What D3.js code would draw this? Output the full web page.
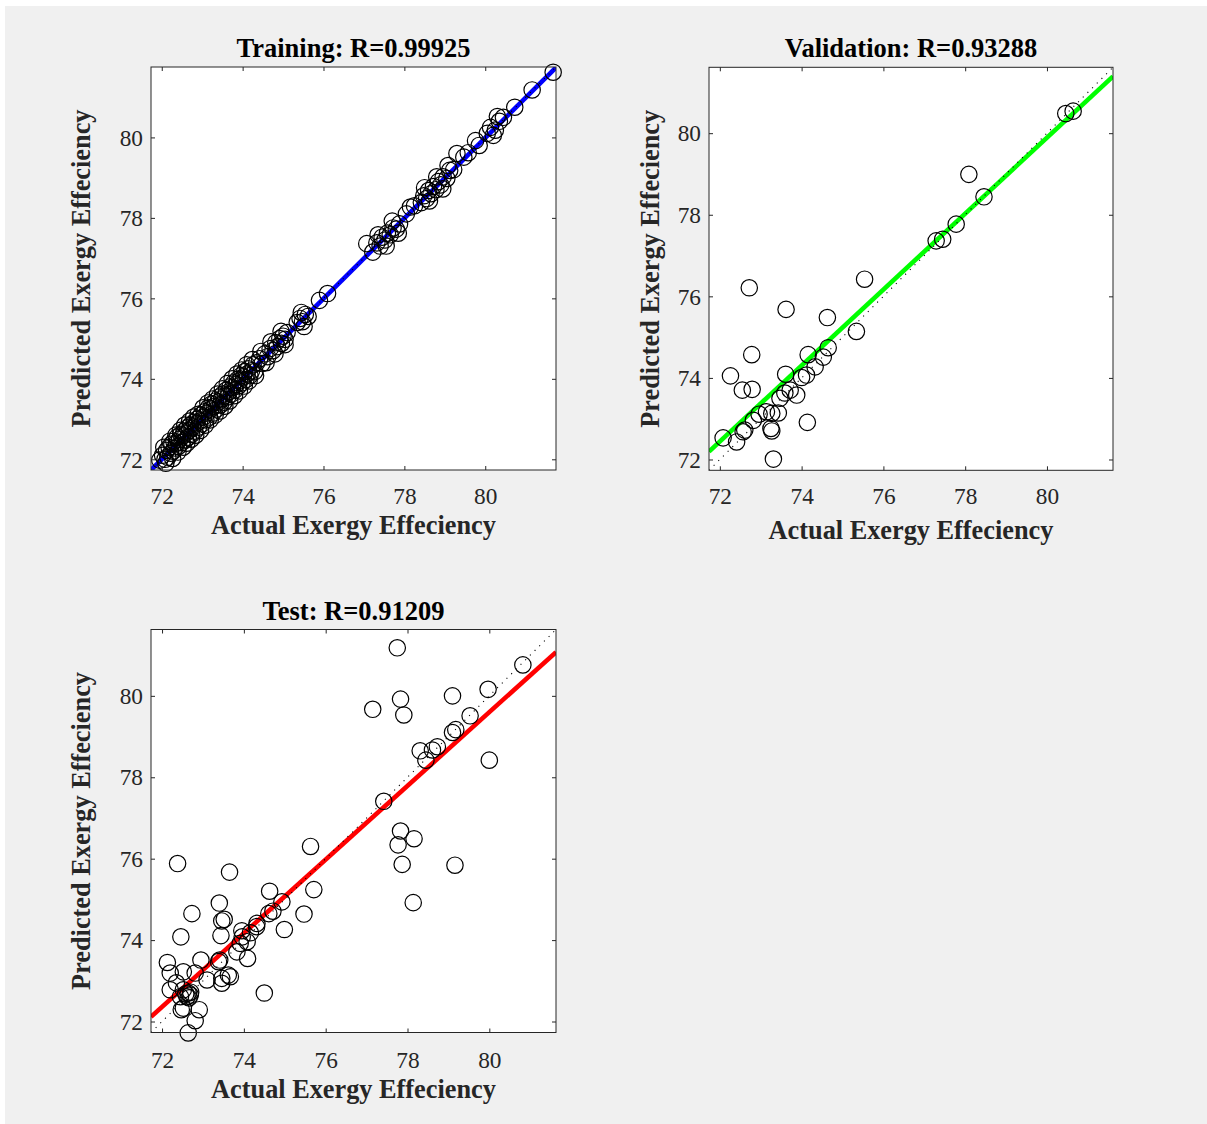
<!DOCTYPE html>
<html>
<head>
<meta charset="utf-8">
<script src="https://cdn.jsdelivr.net/npm/d3@7"></script>
<style>
  body { margin: 0; background: #ffffff; }
  svg { display: block; }
</style>
</head>
<body>
<svg id="fig" width="1207" height="1124"></svg>
<script>
// ---- data: [actual, predicted] exergy efficiency pairs per subset ----
const tickValues = [72, 74, 76, 78, 80];

const trainingPoints = [
  [71.95,71.98],[72.02,72.10],[72.08,72.00],[72.12,72.22],[72.15,72.05],[72.18,72.30],[72.22,72.15],
  [72.25,72.38],[72.28,72.20],[72.30,72.45],[72.33,72.28],[72.36,72.40],[72.38,72.55],[72.41,72.32],
  [72.44,72.50],[72.47,72.62],[72.50,72.42],[72.52,72.58],[72.55,72.70],[72.58,72.48],[72.60,72.65],
  [72.63,72.78],[72.66,72.55],[72.68,72.72],[72.71,72.85],[72.74,72.62],[72.77,72.80],[72.80,72.92],
  [72.82,72.70],[72.85,72.88],[72.88,73.00],[72.91,72.80],[72.94,72.95],[72.97,73.10],[73.00,72.88],
  [73.03,73.05],[73.06,73.18],[73.09,72.98],[73.12,73.15],[73.15,73.28],[73.18,73.05],[73.21,73.25],
  [73.24,73.38],[73.27,73.15],[73.30,73.32],[73.33,73.45],[73.36,73.25],[73.39,73.42],[73.42,73.55],
  [73.45,73.35],[73.48,73.50],[73.51,73.62],[73.54,73.42],[73.57,73.58],[73.60,73.72],
  [73.63,73.55],[73.66,73.68],[73.69,73.80],[73.72,73.62],[73.75,73.78],[73.78,73.90],[73.81,73.72],
  [73.84,73.86],[73.87,73.98],[73.90,73.82],[73.93,73.95],[73.96,74.08],[73.99,73.90],[74.02,74.05],
  [74.05,74.18],[74.08,73.98],[74.11,74.12],[74.14,74.25],[74.18,74.08],[74.22,74.20],[74.26,74.35],
  [74.30,74.18],
  [72.05,72.30],[72.10,71.90],[72.20,72.45],[72.27,72.02],[72.35,72.60],[72.40,72.18],[72.46,72.72],
  [72.53,72.30],[72.57,72.85],[72.62,72.40],[72.69,72.95],[72.73,72.50],[72.79,73.05],[72.84,72.60],
  [72.90,73.12],[72.96,72.72],[73.02,73.28],[73.08,72.85],[73.14,73.40],[73.20,72.98],[73.26,73.50],
  [73.32,73.10],[73.38,73.62],[73.44,73.20],[73.50,73.75],[73.56,73.32],[73.62,73.88],[73.68,73.45],
  [73.74,74.00],[73.80,73.58],[73.86,74.12],[73.92,73.70],[73.98,74.22],[74.04,73.82],[74.10,74.35],
  [74.16,73.95],[74.24,74.48],[74.32,74.08],
  [74.35,74.40],[74.42,74.50],[74.48,74.38],[74.55,74.62],[74.62,74.55],[74.68,74.75],[74.75,74.70],
  [74.82,74.90],[74.86,74.80],[74.92,75.00],[74.96,74.88],[75.00,75.06],[75.05,74.98],[75.10,75.15],
  [74.45,74.68],[74.58,74.40],[74.70,74.92],[74.80,74.62],[74.95,75.18],[75.05,74.85],
  [75.35,75.40],[75.42,75.50],[75.48,75.42],[75.55,75.60],[75.62,75.55],[75.45,75.65],[75.52,75.30],
  [75.90,75.95],[76.10,76.12],
  [77.22,77.15],[77.07,77.36],[77.32,77.38],[77.40,77.30],[77.45,77.52],[77.52,77.45],[77.58,77.62],
  [77.65,77.58],[77.72,77.75],[77.80,77.72],[77.88,77.85],[77.35,77.58],[77.55,77.30],[77.70,77.92],
  [77.85,77.62],[78.05,78.10],[78.15,78.27],[78.25,78.30],
  [78.42,78.38],[78.48,78.55],[78.55,78.48],[78.60,78.68],[78.66,78.60],[78.72,78.78],[78.78,78.70],
  [78.84,78.90],[78.90,78.82],[78.96,79.02],[79.05,78.98],[79.12,79.18],[79.22,79.20],
  [78.50,78.75],[78.62,78.42],[78.80,79.02],[78.95,78.72],[79.08,79.30],
  [79.30,79.60],[79.47,79.51],[79.58,79.62],[79.76,79.92],[79.85,79.80],
  [80.05,80.10],[80.13,80.25],[80.25,80.18],[80.35,80.40],[80.45,80.50],[80.20,80.05],[80.30,80.52],
  [80.73,80.75],[81.16,81.18],[81.68,81.62]
];

const validationPoints = [
  [72.08,72.53],[72.41,72.43],[72.57,72.68],[72.61,72.72],[72.26,74.05],[72.55,73.70],[72.79,73.72],
  [72.72,76.21],[72.78,74.57],[72.82,72.96],[72.96,73.11],[73.14,73.17],[73.27,73.13],[73.43,73.14],
  [73.25,72.76],[73.27,72.70],[73.31,72.01],[73.47,73.50],[73.59,73.63],[73.72,73.70],[73.88,73.58],
  [73.61,74.09],[73.62,75.68],[74.00,74.01],[74.12,74.07],[74.14,72.91],[74.16,74.57],[74.33,74.27],
  [74.53,74.51],[74.65,74.74],[74.63,75.48],[75.34,75.14],[75.54,76.42],[77.29,77.36],[77.45,77.40],
  [77.78,77.77],[78.09,78.99],[78.46,78.44],[80.46,80.48],[80.64,80.54]
];

const testPoints = [
  [77.75,81.18],[77.15,79.67],[77.83,79.92],[77.91,79.53],[79.10,80.00],[79.97,80.16],[80.82,80.76],
  [79.53,79.51],[79.10,79.10],[79.18,79.17],[78.73,78.75],[78.61,78.67],[78.31,78.65],[78.45,78.42],
  [80.00,78.42],[77.42,77.41],[77.83,76.68],[77.77,76.34],[78.16,76.49],[77.87,75.86],[79.16,75.84],
  [78.14,74.92],[75.63,76.30],[75.71,75.24],[75.47,74.64],[74.99,74.26],[74.93,74.94],[74.63,75.20],
  [74.71,74.71],[74.61,74.65],[74.50,72.70],[72.38,75.88],[73.65,75.67],[72.73,74.65],[73.40,74.91],
  [73.52,74.51],[73.46,74.47],[73.44,74.11],[72.46,74.08],[74.32,74.41],[74.16,74.18],[73.95,74.23],
  [74.08,73.96],[73.91,73.92],[73.83,73.71],[74.09,73.55],[73.67,73.10],[73.46,73.06],[73.46,72.94],
  [73.38,73.47],[72.95,73.51],[73.10,73.02],[72.81,73.19],[72.13,73.45],[72.20,73.19],[72.52,73.22],
  [72.20,72.78],[72.52,72.78],[72.64,72.70],[72.69,72.65],[72.61,72.61],[72.45,72.61],[72.52,72.33],
  [72.91,72.29],[72.81,72.02],[72.64,71.72],[73.41,73.51],[73.62,73.14],[73.96,74.08],[74.31,74.33],
  [72.58,72.68],[72.66,72.58],[72.70,72.72],[72.47,72.29],[72.35,72.95]
];

const subsetNames = ["Training", "Validation", "Test"];
const rValues = ["0.99925", "0.93288", "0.91209"];
const fitSlopes = [0.999, 0.931, 0.905];
const fitIntercepts = [0.07, 5.41, 7.20];
const axisRanges = [[71.734, 81.75], [71.735, 81.615], [71.73, 81.63]];
const xLabelText = "Actual Exergy Effeciency";
const yLabelText = "Predicted Exergy Effeciency";

// ---- layout and styling ----
const layouts = [
  { left: 151, top: 67,    width: 405, height: 403, titleY: 57,  xTickY: 33.5, xLabelY: 63.5, yLabelX: 90,  color: "#0000ff" },
  { left: 709, top: 67.3,  width: 404, height: 403, titleY: 57,  xTickY: 33.5, xLabelY: 69,   yLabelX: 659, color: "#00ff00" },
  { left: 151, top: 629.5, width: 405, height: 403, titleY: 619.5, xTickY: 35,   xLabelY: 65.5, yLabelX: 90,  color: "#ff0000" }
];
const pointSets = [trainingPoints, validationPoints, testPoints];

const serif = "'Liberation Serif', 'Times New Roman', Times, serif";
const axisColor = "#262626";
const tickFont = 23.3;
const labelFont = 26.3;
const titleFont = 26.5;

const svg = d3.select("#fig");
svg.append("rect")
  .attr("x", 5).attr("y", 6).attr("width", 1202).attr("height", 1118)
  .attr("fill", "#f0f0f0");

pointSets.forEach((points, i) => {
  const L = layouts[i];
  const x = d3.scaleLinear().domain(axisRanges[i]).range([0, L.width]);
  const y = d3.scaleLinear().domain(axisRanges[i]).range([L.height, 0]);

  const g = svg.append("g").attr("transform", `translate(${L.left},${L.top})`);

  g.append("rect")
    .attr("width", L.width).attr("height", L.height)
    .attr("fill", "#ffffff");

  const clipId = `clip-${i}`;
  g.append("clipPath").attr("id", clipId)
    .append("rect").attr("width", L.width).attr("height", L.height);

  const [lo, hi] = axisRanges[i];

  // regression fit line
  const fit = v => fitSlopes[i] * v + fitIntercepts[i];
  g.append("line")
    .attr("clip-path", `url(#${clipId})`)
    .attr("x1", x(lo)).attr("y1", y(fit(lo)))
    .attr("x2", x(hi)).attr("y2", y(fit(hi)))
    .attr("stroke", L.color).attr("stroke-width", 4.6);

  // identity reference (Y = T)
  g.append("line")
    .attr("clip-path", `url(#${clipId})`)
    .attr("x1", x(lo)).attr("y1", y(lo))
    .attr("x2", x(hi)).attr("y2", y(hi))
    .attr("stroke", "#000").attr("stroke-width", 1.1)
    .attr("stroke-dasharray", "1.1,5.5");

  // data markers
  g.append("g").selectAll("circle")
    .data(points)
    .join("circle")
    .attr("cx", d => x(d[0]))
    .attr("cy", d => y(d[1]))
    .attr("r", 8.2)
    .attr("fill", "none")
    .attr("stroke", "#000")
    .attr("stroke-width", 1.2);

  // axes with inward ticks on all four sides
  const styleAxis = sel => {
    sel.select(".domain").remove();
    sel.selectAll(".tick line").attr("stroke", axisColor).attr("stroke-width", 1);
  };
  const bottom = g.append("g").attr("transform", `translate(0,${L.height})`)
    .call(d3.axisBottom(x).tickValues(tickValues).tickSizeInner(-4).tickSizeOuter(0).tickFormat(d3.format("d")))
    .call(styleAxis);
  bottom.selectAll(".tick text")
    .attr("y", L.xTickY).attr("dy", null)
    .attr("fill", axisColor)
    .style("font-family", serif).style("font-size", tickFont + "px");

  g.append("g")
    .call(d3.axisTop(x).tickValues(tickValues).tickSizeInner(-4).tickSizeOuter(0).tickFormat(""))
    .call(styleAxis);

  const left = g.append("g")
    .call(d3.axisLeft(y).tickValues(tickValues).tickSizeInner(-4).tickSizeOuter(0).tickFormat(d3.format("d")))
    .call(styleAxis);
  left.selectAll(".tick text")
    .attr("x", -8).attr("dy", "0.33em")
    .attr("fill", axisColor)
    .style("font-family", serif).style("font-size", tickFont + "px");

  g.append("g").attr("transform", `translate(${L.width},0)`)
    .call(d3.axisRight(y).tickValues(tickValues).tickSizeInner(-4).tickSizeOuter(0).tickFormat(""))
    .call(styleAxis);

  // frame
  g.append("rect")
    .attr("width", L.width).attr("height", L.height)
    .attr("fill", "none").attr("stroke", axisColor).attr("stroke-width", 1);

  // title
  svg.append("text")
    .attr("x", L.left + L.width / 2).attr("y", L.titleY)
    .attr("text-anchor", "middle")
    .attr("fill", "#000")
    .style("font-family", serif).style("font-weight", "bold").style("font-size", titleFont + "px")
    .text(`${subsetNames[i]}: R=${rValues[i]}`);

  // axis labels
  g.append("text")
    .attr("x", L.width / 2).attr("y", L.height + L.xLabelY)
    .attr("text-anchor", "middle")
    .attr("fill", axisColor)
    .style("font-family", serif).style("font-weight", "bold").style("font-size", labelFont + "px")
    .text(xLabelText);

  svg.append("text")
    .attr("transform", `translate(${L.yLabelX},${L.top + L.height / 2}) rotate(-90)`)
    .attr("text-anchor", "middle")
    .attr("fill", axisColor)
    .style("font-family", serif).style("font-weight", "bold").style("font-size", labelFont + "px")
    .text(yLabelText);
});
</script>
</body>
</html>
